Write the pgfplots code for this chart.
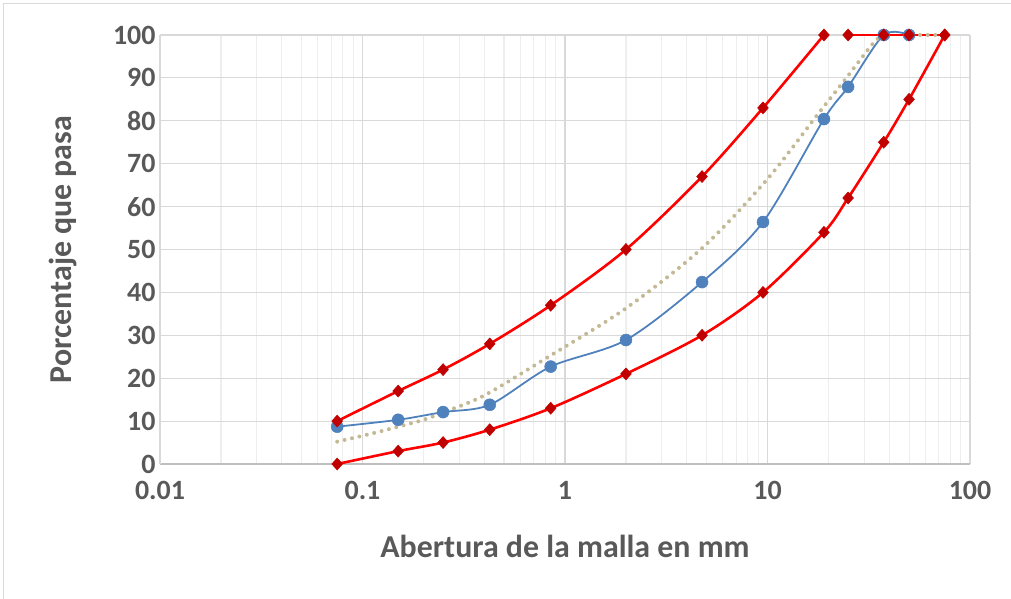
\documentclass[border=0pt]{standalone}
\usepackage{pgfplots}
\pgfplotsset{compat=1.18}
\usepackage{fontspec}
\setmainfont{Carlito}
\definecolor{txt}{HTML}{595959}
\definecolor{gmaj}{HTML}{D9D9D9}
\definecolor{gmin}{HTML}{EEEEEE}
\definecolor{axln}{HTML}{BFBFBF}
\definecolor{limred}{HTML}{FF0000}
\definecolor{mkred}{HTML}{C00000}
\definecolor{serie}{HTML}{4F81BD}
\definecolor{tend}{HTML}{C4B995}

\begin{document}
\begin{tikzpicture}[x=1bp,y=1bp]
\useasboundingbox (0,0) rectangle (1011,599);
% chart frame
\draw[gmaj, line width=1bp] (3.5,-5) -- (3.5,595.5) -- (1020,595.5);
\begin{axis}[
  at={(160bp,135bp)}, anchor=south west,
  scale only axis, width=810bp, height=429bp,
  xmode=log, log basis x=10,
  xmin=0.01, xmax=100, ymin=0, ymax=100,
  xtick={0.01,0.1,1,10,100},
  xticklabels={0.01,0.1,1,10,100},
  minor xtick={0.02,0.03,0.04,0.05,0.06,0.07,0.08,0.09,
               0.2,0.3,0.4,0.5,0.6,0.7,0.8,0.9,
               2,3,4,5,6,7,8,9,
               20,30,40,50,60,70,80,90},
  ytick={0,10,20,30,40,50,60,70,80,90,100},
  /pgf/number format/assume math mode=true,
  major tick length=0pt, minor tick length=0pt,
  xmajorgrids=true, xminorgrids=true, ymajorgrids=true,
  major grid style={draw=gmaj, line width=1.1bp},
  minor grid style={draw=gmin, line width=1.1bp},
  axis x line*=bottom, axis y line*=left,
  axis line style={-},
  x axis line style={draw=axln, line width=1.3bp},
  y axis line style={draw=gmaj, line width=1.1bp},
  tick label style={text=txt},
  xticklabel style={font=\fontsize{28}{30}\selectfont\bfseries, anchor=north, yshift=-14bp},
  yticklabel style={font=\fontsize{28}{30}\selectfont\bfseries, anchor=east, xshift=-1bp},
  xlabel={Abertura de la malla en mm},
  ylabel={Porcentaje que pasa},
  label style={text=txt, font=\fontsize{32}{34}\selectfont\bfseries},
  xlabel style={at={(axis description cs:0.5,-0.217)}, anchor=base},
  ylabel style={at={(axis description cs:-0.12,0.5)}, anchor=center},
  clip=false,
]
% measured grading
\addplot[serie, line width=1.8bp, smooth, mark=*, mark size=6bp,
  mark options={fill=serie, draw=serie, line width=0.5bp}]
  coordinates {(0.075,8.7) (0.15,10.3) (0.25,12.1) (0.425,13.8) (0.85,22.7)
    (2,28.9) (4.75,42.4) (9.5,56.4) (19,80.4) (25,87.9) (37.5,100) (50,100)};
% upper limit
\addplot[limred, line width=2.6bp, smooth, mark=diamond*, mark size=6bp,
  mark options={fill=mkred, draw=mkred, line width=0.5bp, xscale=1.2}]
  coordinates {(0.075,10) (0.15,17) (0.25,22) (0.425,28) (0.85,37)
    (2,50) (4.75,67) (9.5,83) (19,100)};
\addplot[limred, line width=2.6bp, mark=diamond*, mark size=6bp,
  mark options={fill=mkred, draw=mkred, line width=0.5bp, xscale=1.2}]
  coordinates {(25,100) (37.5,100) (50,100) (75,100)};
% lower limit
\addplot[limred, line width=2.6bp, smooth, mark=diamond*, mark size=6bp,
  mark options={fill=mkred, draw=mkred, line width=0.5bp, xscale=1.2}]
  coordinates {(0.075,0) (0.15,3) (0.25,5) (0.425,8) (0.85,13) (2,21)
    (4.75,30) (9.5,40) (19,54) (25,62) (37.5,75) (50,85) (75,100)};
% trend line
\addplot[tend, line width=4bp, smooth, line cap=round,
  dash pattern=on 0bp off 7.6bp]
  coordinates {(0.075,5.2) (0.109,7.0) (0.153,8.8) (0.2,10.3) (0.25,12.0)
    (0.4,16.0) (0.81,24.7) (2,36.3) (4.75,50.3) (9.9,66.2) (17.5,81.2)
    (23.7,89.1) (33.3,98.1) (37.5,100)};
\addplot[tend, line width=4bp, line cap=round,
  dash pattern=on 0bp off 7.6bp]
  coordinates {(52,100) (75,100)};
\end{axis}
\end{tikzpicture}
\end{document}
